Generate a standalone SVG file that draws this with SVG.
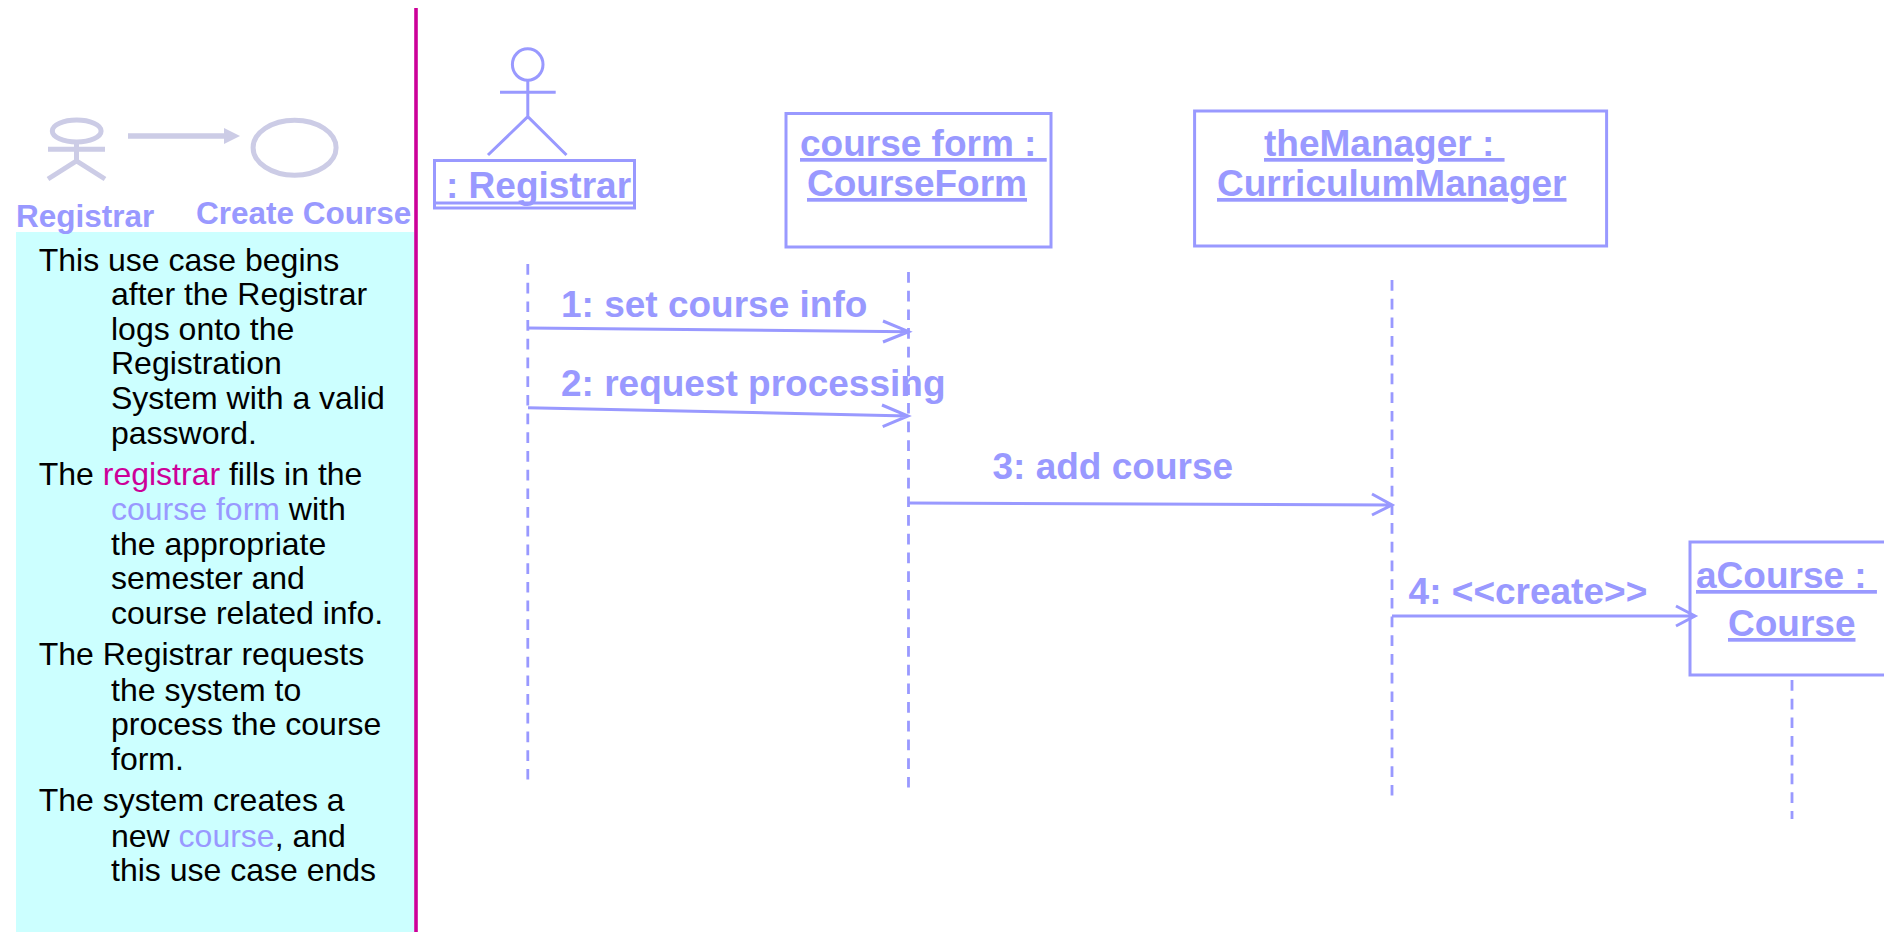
<svg xmlns="http://www.w3.org/2000/svg" width="1884" height="932" viewBox="0 0 1884 932">
<defs>
<style>
text{font-family:"Liberation Sans",Arial,sans-serif;white-space:pre}
.t{font-size:37px;font-weight:700;fill:#9999FF}
.u{text-decoration:underline;text-decoration-thickness:3.5px;text-underline-offset:5px}
.l{font-size:31.5px;font-weight:700;fill:#9999FF}
.b{font-size:32px;fill:#000}
.bl{fill:#9999FF}.mg{fill:#CC0099}
.o{fill:#fff;stroke:#9999FF;stroke-width:3}
.s{fill:none;stroke:#9999FF;stroke-width:3}
.g{fill:none;stroke:#CCCCE6;stroke-width:5}
.ll{fill:none;stroke:#9999FF;stroke-width:2.8;stroke-dasharray:10.7 8}
</style>
</defs>
<rect width="1884" height="932" fill="#fff"/>
<rect id="usecase-text-panel" x="16" y="232" width="398" height="700" fill="#CCFFFF"/>
<line id="divider" x1="416" y1="8" x2="416" y2="932" stroke="#CC0099" stroke-width="3.6"/>
<g id="usecase-actor">
<ellipse class="g" cx="76.7" cy="131" rx="24.4" ry="10.9"/>
<path class="g" d="M48 149.3H105M76.5 142V161M48 179L76.5 161L105 179"/>
<text class="l" x="16" y="227">Registrar</text>
</g>
<g id="usecase-arrow">
<path d="M128 133.2H224V128L240 136L224 144V138.8H128Z" fill="#CCCCE6"/>
</g>
<g id="usecase-create-course">
<ellipse class="g" cx="294.6" cy="147.7" rx="41.5" ry="27.5"/>
<text class="l" x="196" y="224">Create Course</text>
</g>
<g id="flow-text">
<text class="b" x="38.7" y="271">This use case begins</text>
<text class="b" x="111" y="305">after the Registrar</text>
<text class="b" x="111" y="339.7">logs onto the</text>
<text class="b" x="111" y="374.2">Registration</text>
<text class="b" x="111" y="409">System with a valid</text>
<text class="b" x="111" y="443.6">password.</text>
<text class="b" x="38.7" y="485.3">The <tspan class="mg">registrar</tspan> fills in the</text>
<text class="b" x="111" y="520.2"><tspan class="bl">course form</tspan> with</text>
<text class="b" x="111" y="554.7">the appropriate</text>
<text class="b" x="111" y="589.2">semester and</text>
<text class="b" x="111" y="624">course related info.</text>
<text class="b" x="38.7" y="665.3">The Registrar requests</text>
<text class="b" x="111" y="701">the system to</text>
<text class="b" x="111" y="735">process the course</text>
<text class="b" x="111" y="769.6">form.</text>
<text class="b" x="38.7" y="811.3">The system creates a</text>
<text class="b" x="111" y="846.7">new <tspan class="bl">course</tspan>, and</text>
<text class="b" x="111" y="880.7">this use case ends</text>
</g>
<g id="registrar">
<ellipse class="s" cx="527.7" cy="64.5" rx="15.3" ry="15.7"/>
<path class="s" d="M500 92.3H555.7M527.8 80.5V116.7M488 155L527.8 116.7L566.5 155"/>
<rect class="o" x="434.5" y="160.5" width="200" height="47.5"/>
<line x1="435" y1="203" x2="634" y2="203" stroke="#9999FF" stroke-width="3"/>
<text class="t" x="446" y="197.5">: Registrar</text>
</g>
<g id="course-form">
<rect class="o" x="786" y="113.5" width="265" height="133.5"/>
<text class="t u" x="800" y="156">course form : </text>
<text class="t u" x="807" y="196">CourseForm</text>
</g>
<g id="the-manager">
<rect class="o" x="1194.6" y="111" width="412" height="135"/>
<text class="t u" x="1264" y="156">theManager : </text>
<text class="t u" x="1217" y="196">CurriculumManager</text>
</g>
<g id="a-course">
<rect class="o" x="1690" y="542" width="210" height="133"/>
<text class="t u" x="1696" y="588">aCourse : </text>
<text class="t u" x="1728" y="636">Course</text>
</g>
<g id="connectors">
<line class="ll" x1="527.8" y1="264" x2="527.8" y2="779.5"/>
<line class="ll" x1="908.5" y1="272" x2="908.5" y2="787.5"/>
<line class="ll" x1="1392" y1="280" x2="1392" y2="795.5"/>
<line class="ll" x1="1792" y1="680" x2="1792" y2="819"/>
<path class="s" d="M528 328L908.7 331.7M883 321L908.7 331.7L883 342"/>
<text class="t" x="561" y="316.5">1: set course info</text>
<path class="s" d="M528 407.7L908 416M882 405L908 416L882.7 426.7"/>
<text class="t" x="561" y="396">2: request processing</text>
<path class="s" d="M908.5 503L1392 505M1372 494L1392 505L1372 515"/>
<text class="t" x="992.5" y="478.5">3: add course</text>
<path class="s" d="M1392 616H1695M1676 606L1695 616L1676 626"/>
<text class="t" x="1408.6" y="603.5">4: &lt;&lt;create&gt;&gt;</text>
</g>
</svg>
